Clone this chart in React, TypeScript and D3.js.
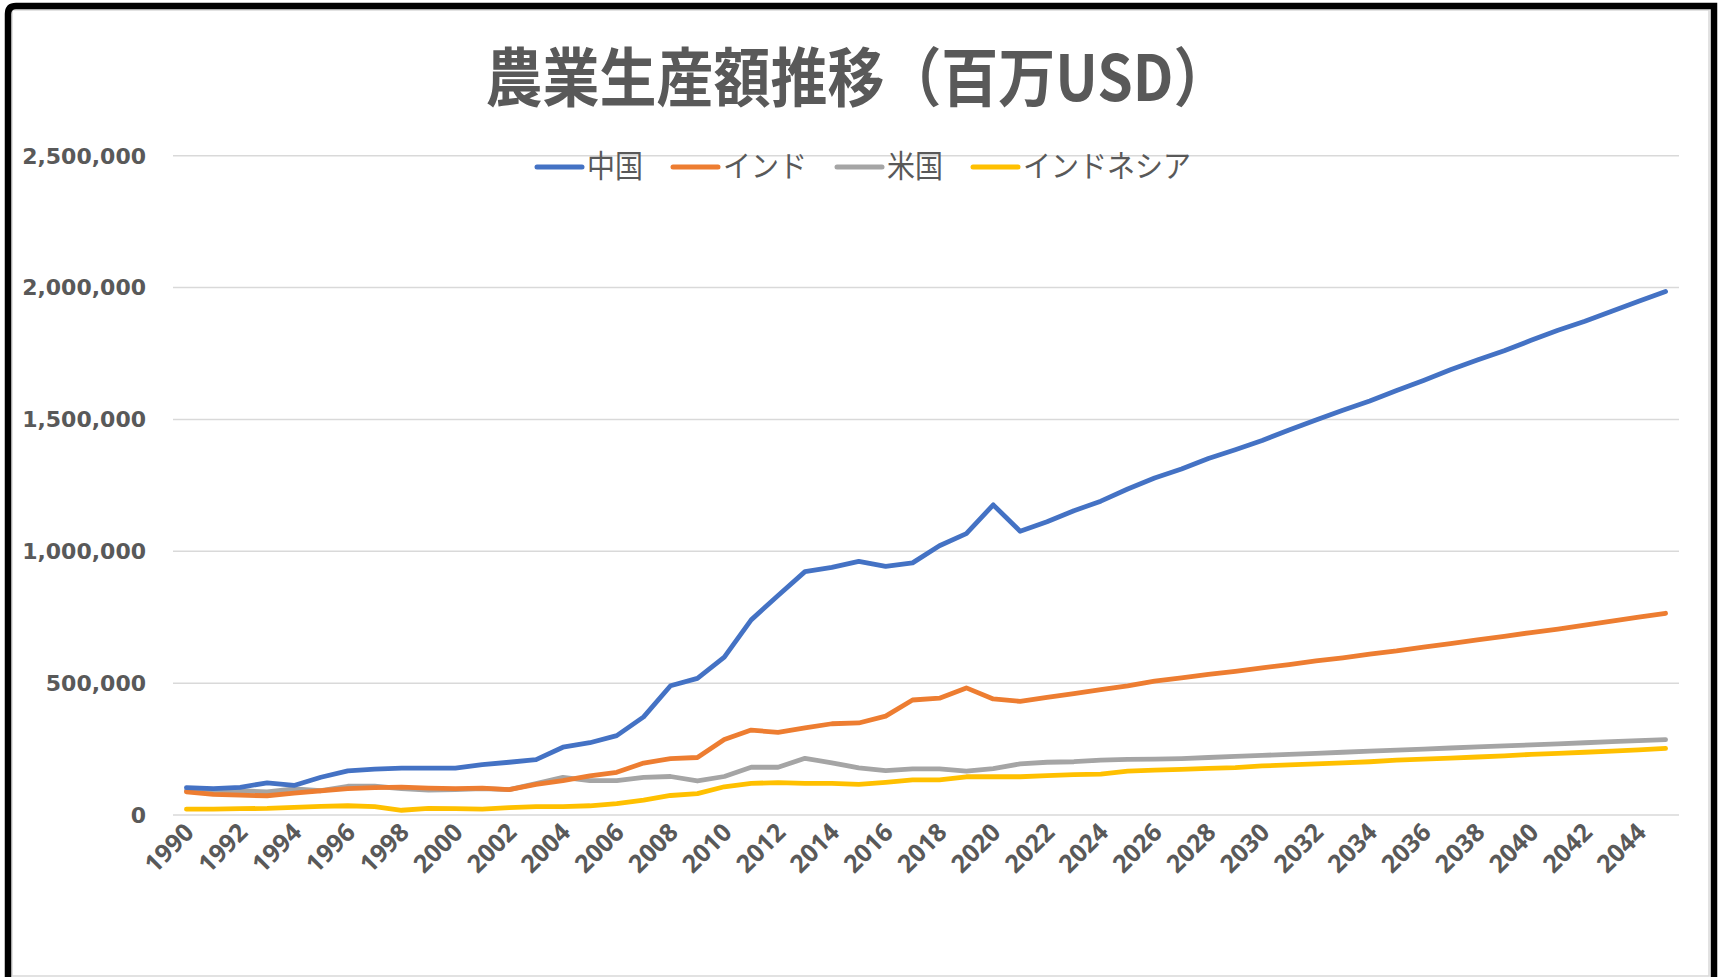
import React, { useEffect } from "react";
import * as d3 from "d3";

// 農業生産額（百万USD）1990-2045
const years = d3.range(1990, 2046);

const seriesNames = ["中国", "インド", "米国", "インドネシア"];
const seriesColors = ["#4472C4", "#ED7D31", "#A5A5A5", "#FFC000"];

const china = [
  104000, 100000, 105000, 122000, 112000, 143000, 167000, 174000, 178000, 178000,
  178000, 191000, 200000, 210000, 257000, 274000, 301000, 372000, 490000, 518000,
  599000, 740000, 832000, 923000, 939000, 962000, 943000, 956000, 1021000, 1067000,
  1176000, 1076000, 1112000, 1154000, 1190000, 1236000, 1278000, 1312000, 1352000, 1385000,
  1420000, 1460000, 1498000, 1535000, 1570000, 1610000, 1648000, 1688000, 1725000, 1760000,
  1800000, 1838000, 1872000, 1910000, 1948000, 1985000,
];
const india = [
  88000, 78000, 75000, 73000, 83000, 92000, 100000, 104000, 106000, 102000,
  100000, 102000, 96000, 116000, 130000, 148000, 162000, 197000, 214000, 218000,
  286000, 322000, 313000, 330000, 346000, 349000, 375000, 436000, 443000, 482000,
  440000, 431000, 446000, 460000, 475000, 490000, 508000, 520000, 533000, 545000,
  558000, 570000, 584000, 596000, 610000, 622000, 637000, 650000, 664000, 677000,
  692000, 705000, 720000, 735000, 750000, 765000,
];
const usa = [
  92000, 86000, 92000, 88000, 99000, 92000, 109000, 109000, 100000, 94000,
  96000, 100000, 96000, 119000, 143000, 130000, 130000, 143000, 146000, 129000,
  146000, 181000, 181000, 215000, 198000, 179000, 168000, 175000, 175000, 166000,
  176000, 194000, 200000, 202000, 208000, 211000, 212000, 214000, 218000, 222000,
  226000, 230000, 234000, 238000, 242000, 246000, 250000, 254000, 258000, 262000,
  266000, 270000, 274000, 278000, 282000, 286000,
];
const indonesia = [
  22000, 22000, 24000, 25000, 29000, 33000, 35000, 32000, 18000, 25000,
  24000, 22000, 28000, 32000, 32000, 35000, 43000, 56000, 74000, 81000,
  107000, 120000, 123000, 120000, 120000, 116000, 124000, 133000, 133000, 145000,
  145000, 145000, 149000, 153000, 155000, 166000, 170000, 173000, 177000, 180000,
  186000, 190000, 194000, 198000, 202000, 208000, 212000, 216000, 220000, 224000,
  230000, 234000, 238000, 242000, 247000, 253000,
];

const yTicks = [0, 500000, 1000000, 1500000, 2000000, 2500000];

const W = 1721,
  H = 977;
const plot = { left: 173, right: 1679, top: 155.7, bottom: 815 };
const textColor = "#595959";
const gridColor = "#D9D9D9";

function App() {
  useEffect(() => {
    document.body.style.margin = "0";
    document.body.style.overflow = "hidden";
  }, []);

  const x = d3
    .scalePoint<number>()
    .domain(years)
    .range([plot.left, plot.right])
    .padding(0.5);
  const y = d3.scaleLinear().domain([0, 2500000]).range([plot.bottom, plot.top]);
  const fmt = d3.format(",");

  const allSeries = [china, india, usa, indonesia];
  const line = d3
    .line<number>()
    .x((d, i) => x(years[i]) as number)
    .y((d) => y(d));

  // legend layout
  const legFont = 28;
  let lx = 537;
  const legendItems = seriesNames.map((name, i) => {
    const item = { name, color: seriesColors[i], x: lx };
    lx += 45 + 5 + name.length * legFont + 30;
    return item;
  });

  return (
    <svg width={W} height={H} style={{ display: "block", background: "#fff" }}>
      {/* frame */}
      <rect x={12} y={10} width={1697} height={966} fill="#fff" stroke={gridColor} strokeWidth={1.5} />
      <path
        d={`M8,${H + 20} L8,14 Q8,6 16,6 L1714,6 L1714,${H + 20}`}
        fill="none"
        stroke="#000"
        strokeWidth={6.5}
      />

      <text
        transform="translate(858,101) scale(1,1.12)"
        textAnchor="middle"
        fontFamily="'Noto Sans CJK JP', sans-serif"
        fontWeight="bold"
        fontSize={57}
        fill={textColor}
      >
        農業生産額推移（百万USD）
      </text>

      {/* gridlines + y labels */}
      {yTicks.map((t) => (
        <g key={t}>
          <line x1={plot.left} x2={plot.right} y1={y(t)} y2={y(t)} stroke={gridColor} strokeWidth={1.5} />
          <text
            x={146}
            y={y(t)}
            dy="0.36em"
            textAnchor="end"
            fontFamily="'DejaVu Sans', sans-serif"
            fontWeight="bold"
            fontSize={22}
            fill={textColor}
          >
            {fmt(t)}
          </text>
        </g>
      ))}

      {/* x labels */}
      {years
        .filter((yr, i) => i % 2 === 0)
        .map((yr) => (
          <text
            key={yr}
            transform={`translate(${(x(yr) as number) + 9},834) rotate(-45)`}
            textAnchor="end"
            fontFamily="'Open Sans', sans-serif"
            fontWeight="bold"
            fontSize={25}
            fill={textColor}
          >
            {yr}
          </text>
        ))}

      {/* lines (drawn back to front) */}
      {[3, 2, 1, 0].map((s) => (
        <path
          key={s}
          d={line(allSeries[s]) || ""}
          fill="none"
          stroke={seriesColors[s]}
          strokeWidth={4.8}
          strokeLinejoin="round"
          strokeLinecap="round"
        />
      ))}

      {/* legend */}
      {legendItems.map((it) => (
        <g key={it.name}>
          <line x1={it.x} x2={it.x + 45} y1={167} y2={167} stroke={it.color} strokeWidth={5} strokeLinecap="round" />
          <text
            transform={`translate(${it.x + 50},177) scale(1,1.08)`}
            fontFamily="'Noto Sans CJK JP', sans-serif"
            fontSize={legFont}
            fill={textColor}
          >
            {it.name}
          </text>
        </g>
      ))}
    </svg>
  );
}

export default App;
